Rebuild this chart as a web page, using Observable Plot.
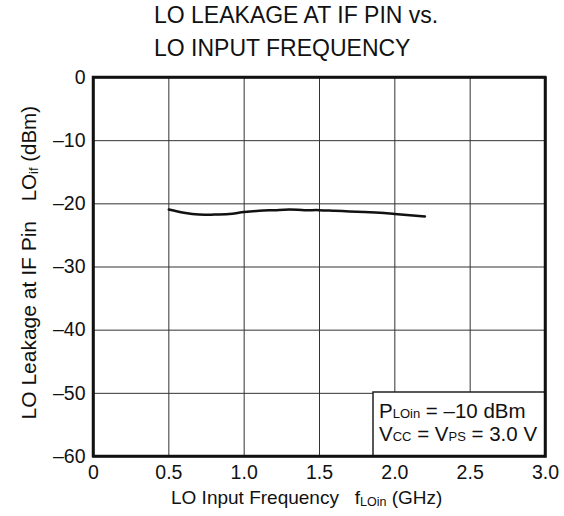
<!DOCTYPE html>
<html><head><meta charset="utf-8">
<script src="https://cdn.jsdelivr.net/npm/d3@7"></script>
<script src="https://cdn.jsdelivr.net/npm/@observablehq/plot@0.6"></script>
<style>
body{margin:0;background:#fff;font-family:"Liberation Sans",Arial,sans-serif;}
#wrap{position:relative;width:564px;height:516px;}
</style></head>
<body><div id="wrap"></div>
<script>
const freq = [0.5, 0.6, 0.7, 0.8, 0.9, 1.0, 1.1, 1.2, 1.3, 1.4, 1.5, 1.6, 1.7, 1.8, 1.9, 2.0, 2.1, 2.2];
const loLeak = [-20.9, -21.4, -21.7, -21.7, -21.6, -21.3, -21.1, -21.0, -20.9, -21.0, -21.0, -21.1, -21.2, -21.3, -21.4, -21.6, -21.8, -22.0];
const xTicks = [0, 0.5, 1.0, 1.5, 2.0, 2.5, 3.0];
const yTicks = [0, -10, -20, -30, -40, -50, -60];
const titleLines = ["LO LEAKAGE AT IF PIN vs.", "LO INPUT FREQUENCY"];
const data = freq.map((f, i) => ({f, v: loLeak[i]}));

const FONT = '"Liberation Sans", Arial, sans-serif';
const plot = Plot.plot({
  width: 564, height: 516,
  marginLeft: 93, marginRight: 19, marginTop: 77, marginBottom: 60,
  style: {fontFamily: FONT, fontSize: "19.5px", color: "#111", background: "transparent"},
  x: {domain: [0, 3], ticks: xTicks, tickFormat: d => d === 0 ? "0" : d.toFixed(1), tickSize: 0, tickPadding: 9, label: null},
  y: {domain: [-60, 0], ticks: yTicks, tickFormat: d => d < 0 ? "\u2013" + Math.abs(d) : String(d), tickSize: 0, tickPadding: 8, label: null},
  marks: [
    Plot.gridX(xTicks, {stroke: "#333", strokeOpacity: 1, strokeWidth: 1}),
    Plot.gridY(yTicks, {stroke: "#333", strokeOpacity: 1, strokeWidth: 1}),
    Plot.line(data, {x: "f", y: "v", curve: "catmull-rom", stroke: "#111", strokeWidth: 2.5}),
    Plot.frame({stroke: "#111", strokeWidth: 2.5})
  ]
});
document.getElementById("wrap").appendChild(plot);

const svg = d3.select(plot);
// title
titleLines.forEach((t, i) => {
  svg.append("text").attr("x", 154).attr("y", 23 + i * 33).attr("font-size", 23)
    .attr("text-anchor", "start").attr("font-family", FONT).attr("fill", "#111").text(t);
});
// x axis label
const xl = svg.append("text").attr("x", 171).attr("y", 504).attr("text-anchor", "start")
  .attr("font-size", 19).attr("font-family", FONT).attr("fill", "#111").attr("xml:space", "preserve");
xl.append("tspan").text("LO Input Frequency   f");
xl.append("tspan").attr("font-size", 12.5).attr("dy", 2).text("LOin");
xl.append("tspan").attr("dy", -2).text(" (GHz)");
// y axis label (two pieces)
const ylA = svg.append("text").attr("transform", "translate(36,221) rotate(-90)").attr("text-anchor", "end")
  .attr("font-size", 21).attr("font-family", FONT).attr("fill", "#111");
ylA.text("LO Leakage at IF Pin");
const ylB = svg.append("text").attr("transform", "translate(36,106) rotate(-90)").attr("text-anchor", "end")
  .attr("font-size", 20.5).attr("font-family", FONT).attr("fill", "#111");
ylB.append("tspan").text("LO");
ylB.append("tspan").attr("font-size", 13).attr("dy", 2).text("if");
ylB.append("tspan").attr("dy", -2).text(" (dBm)");
// annotation box
svg.append("rect").attr("x", 373).attr("y", 392).attr("width", 172).attr("height", 64)
  .attr("fill", "#fff").attr("stroke", "#222").attr("stroke-width", 1.5);
const n1 = svg.append("text").attr("x", 379).attr("y", 418).attr("text-anchor", "start")
  .attr("font-size", 20.5).attr("font-family", FONT).attr("fill", "#111");
n1.append("tspan").text("P");
n1.append("tspan").attr("font-size", 13).text("LOin");
n1.append("tspan").text(" = \u201310 dBm");
const n2 = svg.append("text").attr("x", 379).attr("y", 441).attr("text-anchor", "start")
  .attr("font-size", 20.5).attr("font-family", FONT).attr("fill", "#111");
n2.append("tspan").text("V");
n2.append("tspan").attr("font-size", 13).text("CC");
n2.append("tspan").text(" = V");
n2.append("tspan").attr("font-size", 13).text("PS");
n2.append("tspan").text(" = 3.0 V");
// redraw frame edges over the box
svg.append("rect").attr("x", 93).attr("y", 77).attr("width", 452).attr("height", 379)
  .attr("fill", "none").attr("stroke", "#111").attr("stroke-width", 2.5);
</script>
</body></html>
